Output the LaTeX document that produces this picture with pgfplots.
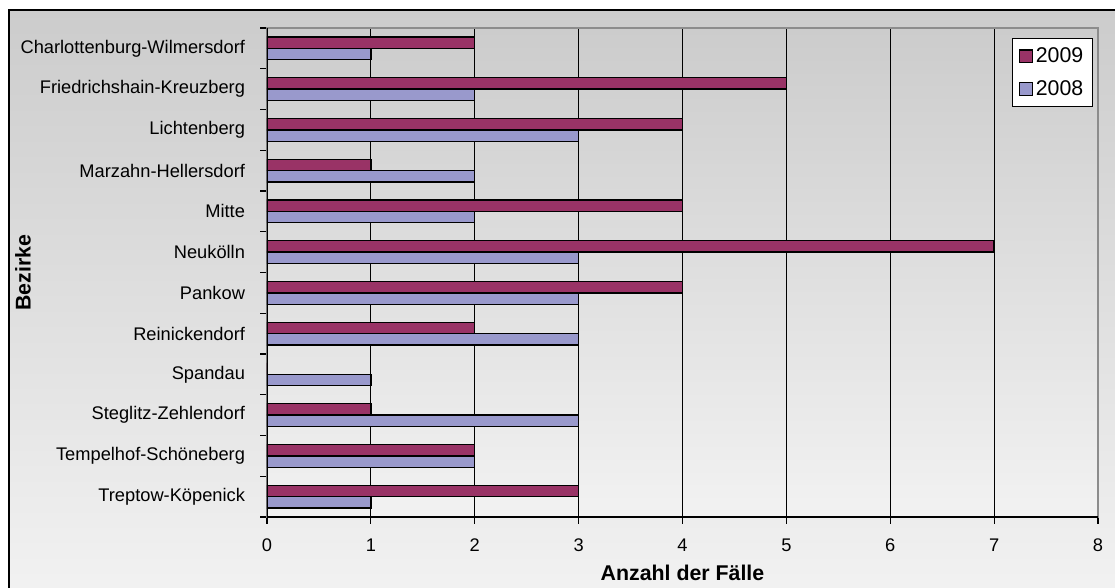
\documentclass[border=0pt]{standalone}
\usepackage{pgfplots}
\pgfplotsset{compat=1.18}
\usepackage{fontspec}
\setmainfont{Liberation Sans}

\definecolor{bar09}{HTML}{993366}
\definecolor{bar08}{HTML}{9999CC}
\definecolor{bgtop}{HTML}{CCCCCC}
\definecolor{bgbot}{HTML}{F2F2F2}

\begin{document}
\begin{tikzpicture}
  % page frame in reference pixels (1px = 0.75pt), axis corner at (267,70)
  \begin{scope}[x=0.75pt,y=0.75pt,shift={(-200.25pt,-52.5pt)}]
    \useasboundingbox (0,0) rectangle (1115,587);
    \clip (0,0) rectangle (1115,587);
    \shade[top color=bgtop,bottom color=bgbot] (9,-10) rectangle (1125,577);
    \draw[black,line width=0.9pt] (9,-10) -- (9,577) -- (1125,577);
  \end{scope}

  \begin{axis}[
      at={(0pt,0pt)}, anchor=south west,
      scale only axis, width=623.25pt, height=366.75pt,
      font=\fontsize{13.7}{16}\selectfont,
      xbar, bar width=0.28,
      xmin=0, xmax=8, ymin=-0.5, ymax=11.5,
      xtick={0,...,8},
      ytick={0,...,11},
      yticklabels={Treptow-Köpenick, Tempelhof-Schöneberg, Steglitz-Zehlendorf,
        Spandau, Reinickendorf, Pankow, Neukölln, Mitte, Marzahn-Hellersdorf,
        Lichtenberg, Friedrichshain-Kreuzberg, Charlottenburg-Wilmersdorf},
      minor ytick={-0.5,0.5,...,11.5},
      major y tick style={draw=none},
      minor y tick style={black, line width=0.8pt},
      major x tick style={black, line width=0.8pt},
      tick align=outside, major tick length=5pt, minor tick length=5pt,
      xtick pos=bottom, ytick pos=left,
      xmajorgrids, grid style={black, line width=0.7pt},
      axis line style={draw=gray!90, line width=1pt},
      axis background/.style={shade, top color=bgtop, bottom color=bgbot},
      tick label style={font=\fontsize{13.7}{16}\selectfont},
      yticklabel style={xshift=-8pt},
      xticklabel style={yshift=-8pt},
      /pgf/number format/assume math mode=true,
      label style={font=\fontsize{16}{19}\selectfont\bfseries},
      xlabel={Anzahl der Fälle},
      ylabel={Bezirke},
      xlabel style={at={(rel axis cs:0.5,-0.1145)}, anchor=center},
      ylabel style={at={(rel axis cs:-0.2936,0.5)}, anchor=center},
      legend style={at={(0.994,0.9796)}, anchor=north east, draw=black, fill=white,
        line width=0.6pt, font=\fontsize{16}{19}\selectfont,
        row sep=8pt, inner xsep=5pt, inner ysep=5pt},
      legend image code/.code={\draw[#1, line width=1.2pt] (0pt,-4.8pt) rectangle (9.6pt,4.8pt);},
      reverse legend,
    ]
    \addplot[draw=black, line width=1pt, fill=bar08, bar shift=-0.14] coordinates {
        (1,0) (2,1) (3,2) (1,3) (3,4) (3,5) (3,6) (2,7) (2,8) (3,9) (2,10) (1,11)
      };
    \addlegendentry{2008}
    \addplot[draw=black, line width=1pt, fill=bar09, bar shift=0.14] coordinates {
        (3,0) (2,1) (1,2) (0,3) (2,4) (4,5) (7,6) (4,7) (1,8) (4,9) (5,10) (2,11)
      };
    \addlegendentry{2009}
    \draw[black, line width=1.2pt] (rel axis cs:0,1) -- (rel axis cs:0,0) -- (rel axis cs:1,0);
  \end{axis}
\end{tikzpicture}
\end{document}
